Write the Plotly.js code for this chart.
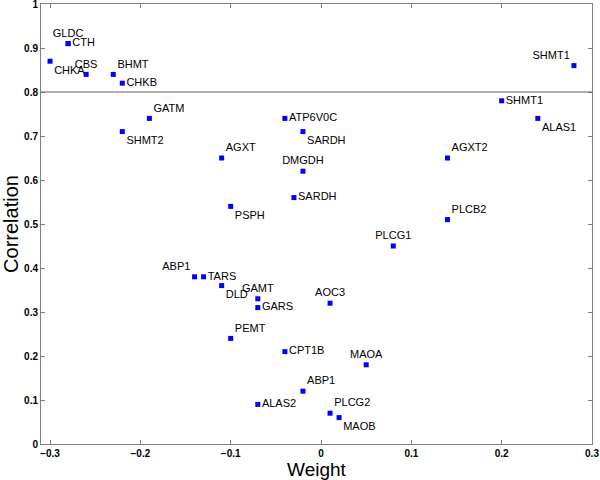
<!DOCTYPE html>
<html>
<head>
<meta charset="utf-8">
<script src="https://cdn.plot.ly/plotly-3.0.1.min.js"></script>
<style>
  html, body { margin: 0; padding: 0; background: #fff; }
  #chart { width: 600px; height: 480px; }
</style>
</head>
<body>
<div id="chart"></div>
<script>
// GENE DATA (weight vs correlation)
const genes = [
  'CHKA', 'GLDC', 'CTH', 'CBS', 'BHMT', 'CHKB', 'GATM', 'SHMT2',
  'ATP6V0C', 'SARDH', 'AGXT', 'SHMT1', 'SHMT1', 'ALAS1', 'AGXT2',
  'DMGDH', 'SARDH', 'PSPH', 'PLCG1', 'PLCB2', 'ABP1', 'TARS', 'DLD',
  'GAMT', 'GARS', 'AOC3', 'PEMT', 'CPT1B', 'MAOA', 'ABP1', 'ALAS2',
  'PLCG2', 'MAOB',
]

const weights = [
  -0.30, -0.28, -0.28, -0.26, -0.23, -0.22, -0.19, -0.22,
  -0.04, -0.02, -0.11, 0.28, 0.20, 0.24, 0.14,
  -0.02, -0.03, -0.10, 0.08, 0.14, -0.14, -0.13, -0.11,
  -0.07, -0.07, 0.01, -0.10, -0.04, 0.05, -0.02, -0.07,
  0.01, 0.02,
]

const correlations = [
  0.87, 0.91, 0.91, 0.84, 0.84, 0.82, 0.74, 0.71,
  0.74, 0.71, 0.65, 0.86, 0.78, 0.74, 0.65,
  0.62, 0.56, 0.54, 0.45, 0.51, 0.38, 0.38, 0.36,
  0.33, 0.31, 0.32, 0.24, 0.21, 0.18, 0.12, 0.09,
  0.07, 0.06,
]

// where each label sits relative to its point
const labelPos = [
  'bottom right', 'top center', 'middle right', 'top center', 'top right', 'middle right', 'top right', 'bottom right',
  'middle right', 'bottom right', 'top right', 'top left', 'middle right', 'bottom right', 'top right',
  'top center', 'middle right', 'bottom right', 'top center', 'top right', 'top left', 'middle right', 'bottom right',
  'top center', 'middle right', 'top center', 'top right', 'middle right', 'top center', 'top right', 'middle right',
  'top right', 'bottom right',
]

const threshold = 0.8

const trace = {
  x: weights,
  y: correlations,
  text: genes,
  mode: 'markers+text',
  type: 'scatter',
  textposition: labelPos,
  textfont: { family: 'Arial, Liberation Sans', size: 11, color: '#000' },
  marker: { symbol: 'square', size: 5, color: '#0000ff' },
  cliponaxis: false,
  hoverinfo: 'x+y+text',
}

const axisStyle = {
  showline: true,
  linecolor: '#808080',
  linewidth: 1,
  mirror: 'ticks',
  ticks: 'inside',
  ticklen: 4,
  tickcolor: '#808080',
  showgrid: false,
  zeroline: false,
  ticklabeloverflow: 'allow',
  tickfont: { family: 'Arial, Liberation Sans', size: 10, color: '#000', weight: 'bold' },
}

const layout = {
  width: 600,
  height: 480,
  margin: { l: 41, r: 8, t: 4, b: 36 },
  paper_bgcolor: '#fff',
  plot_bgcolor: '#fff',
  showlegend: false,
  xaxis: Object.assign({}, axisStyle, {
    range: [-0.31, 0.3],
    dtick: 0.1,
    tick0: 0,
    title: { text: 'Weight', font: { family: 'Arial, Liberation Sans', size: 19, color: '#000' }, standoff: 2 },
  }),
  yaxis: Object.assign({}, axisStyle, {
    range: [0, 1],
    dtick: 0.1,
    tick0: 0,
    title: { text: 'Correlation', font: { family: 'Arial, Liberation Sans', size: 20, color: '#000' }, standoff: 4 },
  }),
  shapes: [{
    type: 'line',
    xref: 'paper',
    x0: 0,
    x1: 1,
    yref: 'y',
    y0: threshold,
    y1: threshold,
    line: { color: '#606060', width: 1 },
  }],
}

Plotly.newPlot('chart', [trace], layout, { displayModeBar: false, staticPlot: true })
</script>
</body>
</html>
